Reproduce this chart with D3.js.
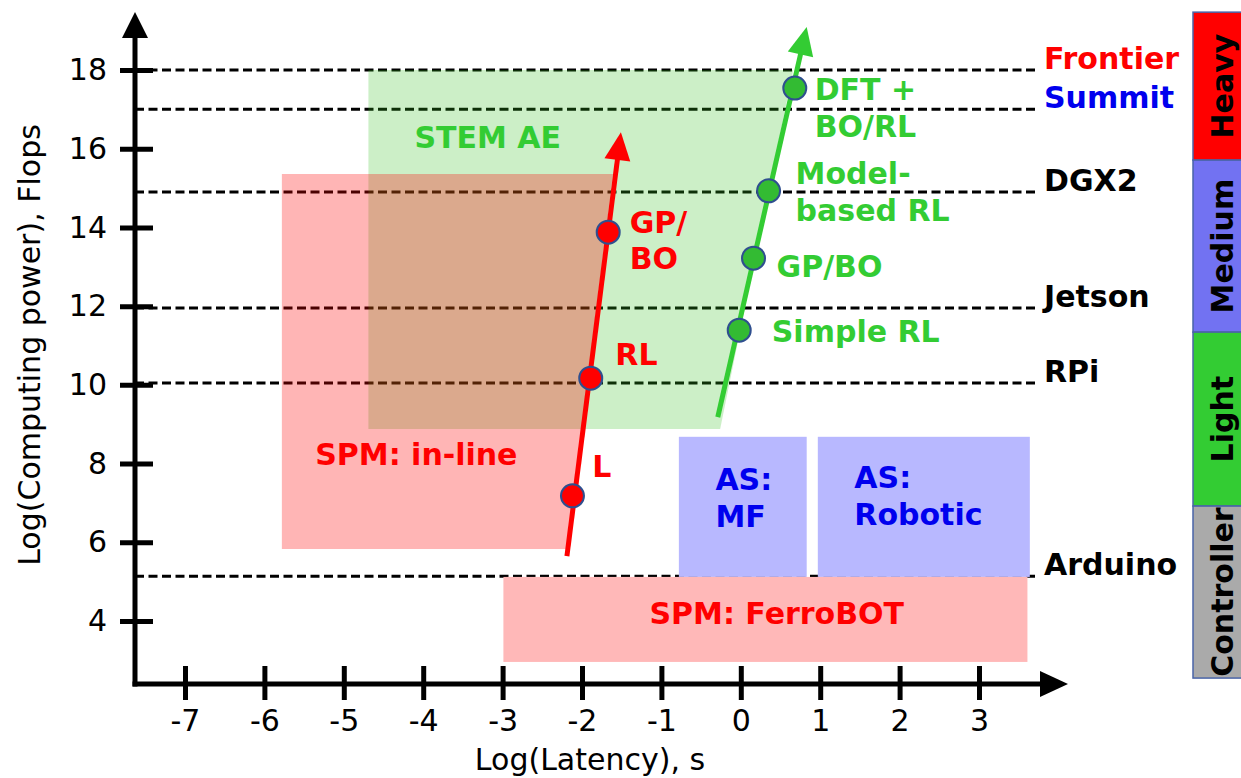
<!DOCTYPE html>
<meta charset="utf-8">
<style>
    body { margin: 0; background: #fff; }
    svg { display: block; font-family: "DejaVu Sans", sans-serif; }
    .axis path { display: none; }
    .axis line { stroke: #000; stroke-width: 5; }
    .axis text { font-size: 30px; fill: #000; font-family: "DejaVu Sans", sans-serif; }
    .lbl { font-size: 30px; font-weight: bold; }
</style>
<body>
<div id="chart"></div>
<script src="https://cdnjs.cloudflare.com/ajax/libs/d3/7.8.5/d3.min.js"></script>
<script>
    // tick values
    var xTicks = [-7, -6, -5, -4, -3, -2, -1, 0, 1, 2, 3];
    var yTicks = [4, 6, 8, 10, 12, 14, 16, 18];

    // hardware levels, log(flops)
    var levels = [
        { name: "Frontier", value: 18.0, color: "#ff0000" },
        { name: "Summit", value: 17.0, color: "#0000ee" },
        { name: "DGX2", value: 14.9, color: "#000" },
        { name: "Jetson", value: 11.95, color: "#000" },
        { name: "RPi", value: 10.05, color: "#000" },
        { name: "Arduino", value: 5.14, color: "#000" }
    ];

    // regions as polygons in (latency, flops)
    var stemAE = [[-4.69, 18], [0.66, 18], [-0.26, 8.88], [-4.69, 8.88]];
    var spmInline = [[-5.78, 15.36], [-1.61, 15.36], [-2.19, 5.83], [-5.78, 5.83]];
    var boxes = [
        { x0: -0.78, x1: 0.83, y0: 5.12, y1: 8.68, color: "#b8b8ff" },
        { x0: 0.97, x1: 3.64, y0: 5.12, y1: 8.68, color: "#b8b8ff" },
        { x0: -2.99, x1: 3.61, y0: 2.96, y1: 5.12, color: "#ffb8b8" }
    ];

    // method trends
    var redLine = [[-2.19, 5.65], [-1.51, 16.42]];
    var redPts = [[-2.12, 7.18], [-1.89, 10.17], [-1.67, 13.88]];
    var greenLine = [[-0.29, 9.18], [0.83, 19.09]];
    var greenPts = [[-0.02, 11.39], [0.16, 13.22], [0.35, 14.93], [0.68, 17.54]];

    // annotation text: [latency, flops, text, color]
    var notes = [
        [-4.11, 16.02, "STEM AE", "#33cc33"],
        [-5.36, 7.97, "SPM: in-line", "#ff0000"],
        [-1.87, 7.66, "L", "#ff0000"],
        [-1.58, 10.5, "RL", "#ff0000"],
        [-1.40, 13.86, "GP/", "#ff0000"],
        [-1.40, 12.94, "BO", "#ff0000"],
        [0.93, 17.24, "DFT +", "#33cc33"],
        [0.93, 16.3, "BO/RL", "#33cc33"],
        [0.69, 15.1, "Model-", "#33cc33"],
        [0.69, 14.16, "based RL", "#33cc33"],
        [0.45, 12.74, "GP/BO", "#33cc33"],
        [0.39, 11.09, "Simple RL", "#33cc33"],
        [-0.32, 7.33, "AS:", "#0000ee"],
        [-0.32, 6.39, "MF", "#0000ee"],
        [1.43, 7.38, "AS:", "#0000ee"],
        [1.43, 6.44, "Robotic", "#0000ee"],
        [-1.15, 3.93, "SPM: FerroBOT", "#ff0000"]
    ];

    // side bar classes
    var classes = [
        { name: "Heavy", top: 19.47, bottom: 15.71, color: "#ff0000" },
        { name: "Medium", top: 15.71, bottom: 11.34, color: "#7272f2" },
        { name: "Light", top: 11.34, bottom: 6.92, color: "#33cc33" },
        { name: "Controller", top: 6.92, bottom: 2.55, color: "#aaaaaa" }
    ];

    var width = 1241, height = 778;
    var svg = d3.select("#chart").append("svg")
        .attr("width", width).attr("height", height);

    var x = d3.scaleLinear().domain([-7, 3]).range([185, 979]);
    var y = d3.scaleLinear().domain([4, 18]).range([621, 70]);
    var ax0 = 135, ay0 = 684;

    var line = d3.line().x(d => x(d[0])).y(d => y(d[1]));

    // dashed level lines (under the transparent regions)
    svg.selectAll(".level").data(levels).enter().append("line")
        .attr("x1", ax0).attr("x2", 1037)
        .attr("y1", d => y(d.value)).attr("y2", d => y(d.value))
        .attr("stroke", "#000").attr("stroke-width", 3)
        .attr("stroke-dasharray", "9,4.5");

    svg.selectAll(".lvl-lbl").data(levels).enter().append("text")
        .attr("class", "lbl")
        .attr("x", 1044).attr("y", d => y(d.value) - 1)
        .attr("fill", d => d.color)
        .text(d => d.name);

    // regions
    svg.append("path").attr("d", line(stemAE) + "Z")
        .attr("fill", "rgb(50,190,30)").attr("fill-opacity", 0.25);
    svg.append("path").attr("d", line(spmInline) + "Z")
        .attr("fill", "#ff0000").attr("fill-opacity", 0.29);
    svg.selectAll(".box").data(boxes).enter().append("rect")
        .attr("x", d => x(d.x0)).attr("y", d => y(d.y1))
        .attr("width", d => x(d.x1) - x(d.x0))
        .attr("height", d => y(d.y0) - y(d.y1))
        .attr("fill", d => d.color);

    // axes
    var plain = d => String(d);
    var yAxis = svg.append("g").attr("class", "axis")
        .attr("transform", "translate(" + ax0 + ",0)")
        .call(d3.axisLeft(y).tickValues(yTicks).tickFormat(plain).tickSize(15).tickPadding(13));
    yAxis.selectAll(".tick line").attr("x1", 18);

    var xAxis = svg.append("g").attr("class", "axis")
        .attr("transform", "translate(0," + ay0 + ")")
        .call(d3.axisBottom(x).tickValues(xTicks).tickFormat(plain).tickSize(16).tickPadding(10));
    xAxis.selectAll(".tick line").attr("y1", -18);

    svg.append("line").attr("x1", ax0).attr("x2", ax0)
        .attr("y1", ay0 + 2.5).attr("y2", 36)
        .attr("stroke", "#000").attr("stroke-width", 5);
    svg.append("path").attr("d", "M" + (ax0 - 13) + ",38L" + ax0 + ",12L" + (ax0 + 13) + ",38Z")
        .attr("fill", "#000");
    svg.append("line").attr("x1", ax0 - 2.5).attr("x2", 1042)
        .attr("y1", ay0).attr("y2", ay0)
        .attr("stroke", "#000").attr("stroke-width", 5);
    svg.append("path").attr("d", "M1040," + (ay0 - 13) + "L1068," + ay0 + "L1040," + (ay0 + 13) + "Z")
        .attr("fill", "#000");

    svg.append("text").attr("x", 590).attr("y", 770)
        .attr("text-anchor", "middle").attr("font-size", 30)
        .text("Log(Latency), s");
    svg.append("text")
        .attr("transform", "translate(40,345) rotate(-90)")
        .attr("text-anchor", "middle").attr("font-size", 30)
        .text("Log(Computing power), Flops");

    // trend arrows
    function arrow(pts, color) {
        var p0 = [x(pts[0][0]), y(pts[0][1])], p1 = [x(pts[1][0]), y(pts[1][1])];
        var dx = p1[0] - p0[0], dy = p1[1] - p0[1], L = Math.hypot(dx, dy);
        var ux = dx / L, uy = dy / L, hl = 28, hw = 13;
        var bx = p1[0] - ux * hl, by = p1[1] - uy * hl;
        svg.append("line").attr("x1", p0[0]).attr("y1", p0[1])
            .attr("x2", bx + ux * 2).attr("y2", by + uy * 2)
            .attr("stroke", color).attr("stroke-width", 5);
        svg.append("path")
            .attr("d", "M" + p1[0] + "," + p1[1] +
                "L" + (bx - uy * hw) + "," + (by + ux * hw) +
                "L" + (bx + uy * hw) + "," + (by - ux * hw) + "Z")
            .attr("fill", color);
    }
    arrow(redLine, "#ff0000");
    arrow(greenLine, "#33cc33");

    svg.selectAll(".rp").data(redPts).enter().append("circle")
        .attr("cx", d => x(d[0])).attr("cy", d => y(d[1])).attr("r", 11.5)
        .attr("fill", "#ff0000").attr("stroke", "#2f4f8f").attr("stroke-width", 2);
    svg.selectAll(".gp").data(greenPts).enter().append("circle")
        .attr("cx", d => x(d[0])).attr("cy", d => y(d[1])).attr("r", 11.5)
        .attr("fill", "#33bb33").attr("stroke", "#2f4f8f").attr("stroke-width", 2);

    svg.selectAll(".note").data(notes).enter().append("text")
        .attr("class", "lbl")
        .attr("x", d => x(d[0])).attr("y", d => y(d[1]))
        .attr("fill", d => d[3])
        .text(d => d[2]);

    // side bar
    var bar = svg.append("g");
    bar.selectAll("rect").data(classes).enter().append("rect")
        .attr("x", 1193).attr("width", 52)
        .attr("y", d => y(d.top)).attr("height", d => y(d.bottom) - y(d.top))
        .attr("fill", d => d.color).attr("stroke", "#4a64a8").attr("stroke-width", 1.5);
    bar.selectAll("text").data(classes).enter().append("text")
        .attr("class", "lbl").attr("text-anchor", "middle")
        .attr("transform", d => "translate(1233," + (y(d.top) + y(d.bottom)) / 2 + ") rotate(-90)")
        .attr("fill", "#000")
        .text(d => d.name);
</script>
</body>
